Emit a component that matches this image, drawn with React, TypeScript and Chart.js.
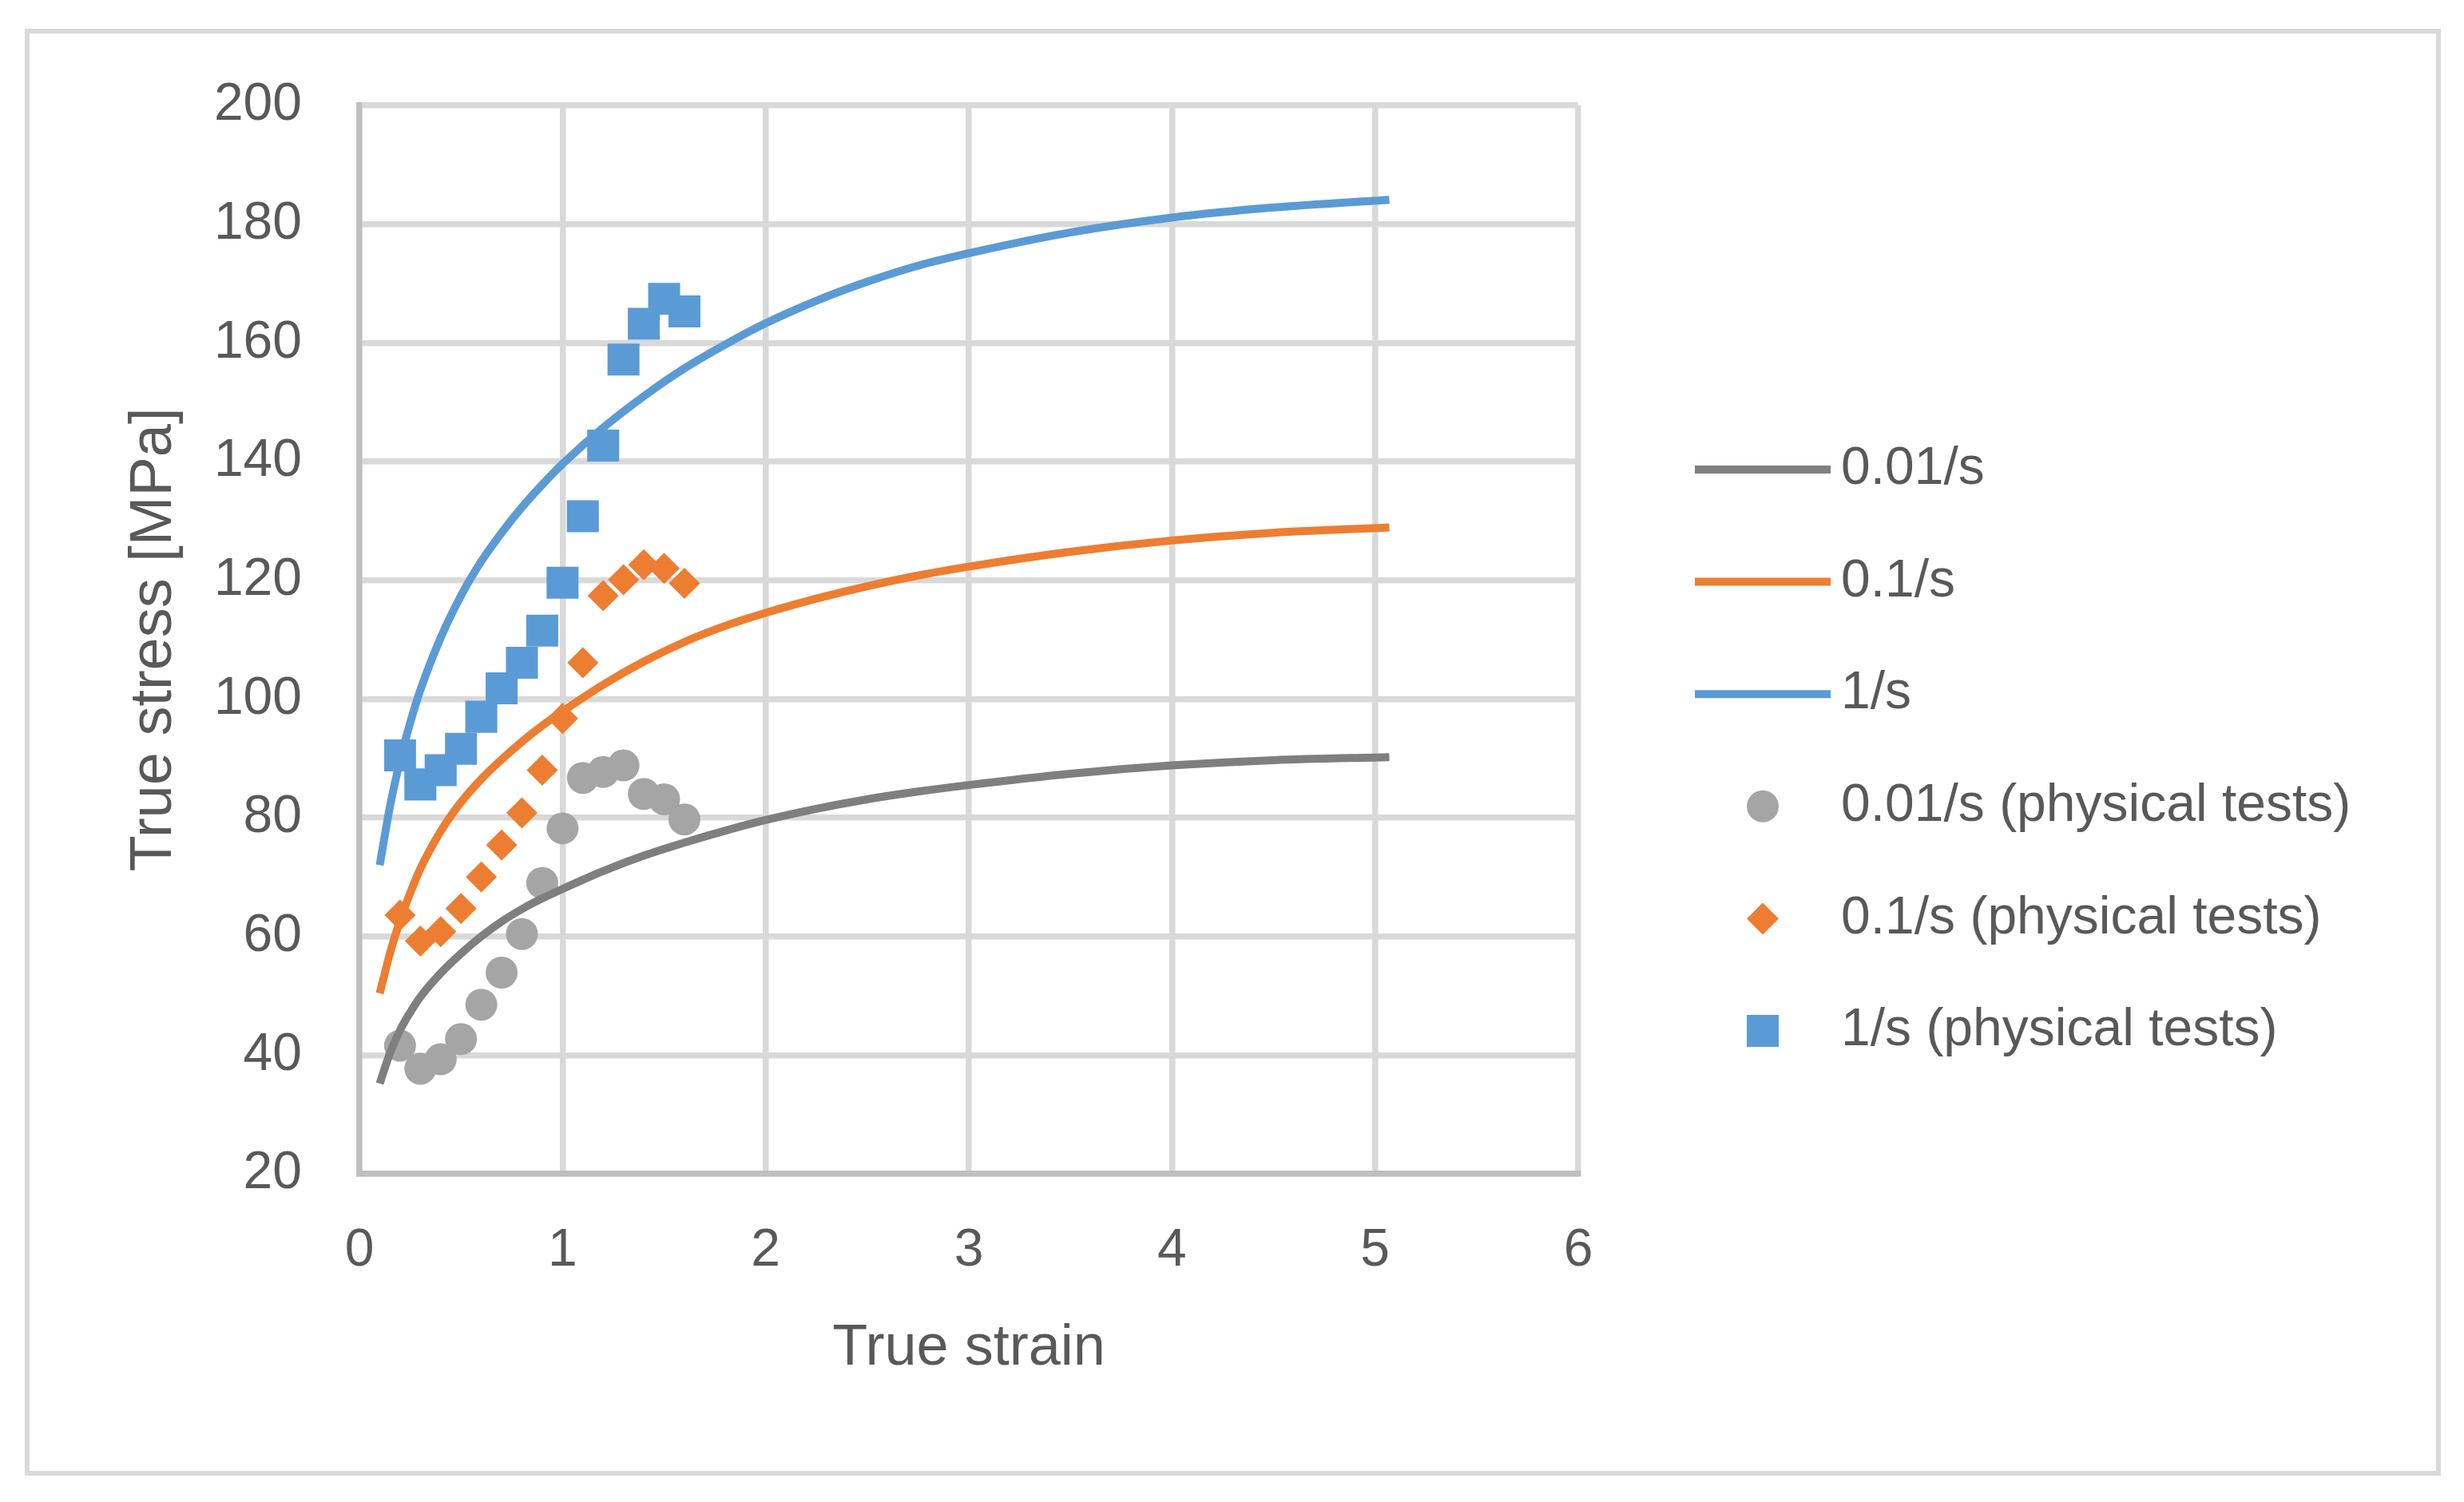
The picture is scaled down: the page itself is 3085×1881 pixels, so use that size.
import React, { useEffect, useRef } from "react";
import { Chart, registerables } from "chart.js";

Chart.register(...registerables);

// fitted model curves
const fitStrain = [0.1, 0.15, 0.2, 0.25, 0.3, 0.4, 0.5, 0.6, 0.7, 0.8, 0.9, 1.0, 1.2, 1.4, 1.6, 1.8, 2.0, 2.25, 2.5, 2.75, 3.0, 3.5, 4.0, 4.5, 5.07];
const fit001 = [35.2, 40.3, 44.2, 47.2, 49.8, 53.8, 57.1, 60, 62.5, 64.6, 66.4, 68, 71, 73.6, 75.8, 77.8, 79.6, 81.5, 83.1, 84.4, 85.5, 87.4, 88.8, 89.7, 90.2];
const fit01 = [50.4, 57.1, 62.7, 67.3, 71.4, 77.7, 82.6, 86.5, 89.8, 92.8, 95.5, 97.9, 102.4, 106.3, 109.6, 112.3, 114.5, 116.9, 119, 120.8, 122.3, 124.8, 126.7, 128, 128.9];
const fit1 = [72, 81.8, 89.6, 96, 101.5, 110.3, 117.4, 123.2, 128, 132.3, 136.1, 139.6, 145.7, 151, 155.7, 159.7, 163.3, 167.1, 170.3, 173, 175.1, 178.6, 181.1, 182.8, 184.1];

// physical tests
const testStrain = [0.2, 0.3, 0.4, 0.5, 0.6, 0.7, 0.8, 0.9, 1.0, 1.1, 1.2, 1.3, 1.4, 1.5, 1.6];
const test001 = [41.6, 37.7, 39.3, 42.7, 48.5, 53.9, 60.4, 69, 78.2, 86.7, 87.7, 88.8, 84, 83.1, 79.7];
const test01 = [63.6, 59.2, 60.8, 64.7, 70, 75.4, 80.8, 88, 96.7, 106.1, 117.4, 120.1, 122.6, 122, 119.5];
const test1 = [90.5, 85.6, 88, 91.6, 97, 101.8, 106.1, 111.5, 119.6, 130.8, 142.7, 157.2, 163.2, 167.4, 165.3];

const xTicks = [0, 1, 2, 3, 4, 5, 6];
const yTicks = [20, 40, 60, 80, 100, 120, 140, 160, 180, 200];

const GRAY_LINE = "#7F7F7F";
const GRAY_MARK = "#A5A5A5";
const ORANGE = "#ED7D31";
const BLUE = "#5B9BD5";
const TEXT = "#595959";
const GRID = "#D9D9D9";
const AXIS = "#BFBFBF";
const FONT = "Liberation Sans";

const pts = (xs: number[], ys: number[]) => xs.map((x, i) => ({ x, y: ys[i] }));

// legend drawn beside the plot: Chart.js' own legend box is clipped to half the canvas
const sideLegend = {
    id: "sideLegend",
    afterDraw(chart: any) {
        const { ctx, chartArea } = chart;
        const x0 = chartArea.right + 146;
        const sampleW = 170;
        ctx.save();
        ctx.font = `66px "${FONT}"`;
        ctx.textBaseline = "middle";
        ctx.textAlign = "left";
        chart.data.datasets.forEach((ds: any, i: number) => {
            const cy = chartArea.top + 456 + i * 140.6;
            const cx = x0 + sampleW / 2;
            const color = ds.borderColor;
            ctx.fillStyle = color;
            ctx.strokeStyle = color;
            if (ds.showLine) {
                ctx.lineWidth = ds.borderWidth;
                ctx.beginPath();
                ctx.moveTo(x0, cy);
                ctx.lineTo(x0 + sampleW, cy);
                ctx.stroke();
            } else if (ds.pointStyle === "circle") {
                ctx.beginPath();
                ctx.arc(cx, cy, 20, 0, Math.PI * 2);
                ctx.fill();
            } else if (ds.pointStyle === "rectRot") {
                ctx.beginPath();
                ctx.moveTo(cx - 20, cy);
                ctx.lineTo(cx, cy - 20);
                ctx.lineTo(cx + 20, cy);
                ctx.lineTo(cx, cy + 20);
                ctx.closePath();
                ctx.fill();
            } else {
                ctx.fillRect(cx - 20, cy - 20, 40, 40);
            }
            ctx.fillStyle = TEXT;
            ctx.fillText(ds.label, x0 + 183, cy);
        });
        ctx.restore();
    },
};

const App: React.FC = () => {
    const canvasRef = useRef<HTMLCanvasElement>(null!);

    useEffect(() => {
        const lineSet = (label: string, ys: number[], color: string) => ({
            label,
            data: pts(fitStrain, ys),
            showLine: true,
            borderColor: color,
            backgroundColor: color,
            borderWidth: 10,
            pointRadius: 0,
            pointHoverRadius: 0,
            cubicInterpolationMode: "monotone" as const,
        });
        const testSet = (label: string, ys: number[], color: string, style: string, r: number) => ({
            label,
            data: pts(testStrain, ys),
            showLine: false,
            backgroundColor: color,
            borderColor: color,
            pointStyle: style,
            pointRadius: r,
            pointHoverRadius: r,
            pointBorderWidth: 0,
        });

        const chart = new Chart(canvasRef.current, {
            type: "scatter",
            data: {
                datasets: [
                    lineSet("0.01/s", fit001, GRAY_LINE),
                    lineSet("0.1/s", fit01, ORANGE),
                    lineSet("1/s", fit1, BLUE),
                    testSet("0.01/s (physical tests)", test001, GRAY_MARK, "circle", 20),
                    testSet("0.1/s (physical tests)", test01, ORANGE, "rectRot", 19.5),
                    testSet("1/s (physical tests)", test1, BLUE, "rect", 28.3),
                ] as any,
            },
            options: {
                responsive: false,
                animation: false,
                events: [],
                layout: { padding: { left: 0, top: 132, bottom: 134, right: 1109 } },
                plugins: {
                    tooltip: { enabled: false },
                    legend: { display: false },
                },
                scales: {
                    x: {
                        type: "linear",
                        min: xTicks[0],
                        max: xTicks[xTicks.length - 1],
                        afterBuildTicks: (s: any) => {
                            s.ticks = xTicks.map((v) => ({ value: v }));
                        },
                        afterFit: (s: any) => {
                            s.height = 277;
                        },
                        grid: { color: GRID, lineWidth: 7.5, drawTicks: false },
                        border: { color: AXIS, width: 7.5 },
                        ticks: { padding: 57, maxRotation: 0, color: TEXT, font: { family: FONT, size: 66 } },
                        title: {
                            display: true,
                            text: "True strain",
                            color: TEXT,
                            font: { family: FONT, size: 72 },
                            padding: { top: 0, bottom: 15 },
                        },
                    },
                    y: {
                        type: "linear",
                        min: yTicks[0],
                        max: yTicks[yTicks.length - 1],
                        afterBuildTicks: (s: any) => {
                            s.ticks = yTicks.map((v) => ({ value: v }));
                        },
                        afterFit: (s: any) => {
                            s.width = 450;
                        },
                        grid: { color: GRID, lineWidth: 7.5, drawTicks: false },
                        border: { color: AXIS, width: 7.5 },
                        ticks: { padding: 72, color: TEXT, font: { family: FONT, size: 66 } },
                        title: {
                            display: true,
                            text: "True stress [MPa]",
                            color: TEXT,
                            font: { family: FONT, size: 74 },
                            padding: { top: 149, bottom: 0 },
                        },
                    },
                },
            } as any,
            plugins: [sideLegend],
        });

        return () => {
            chart.destroy();
        };
    }, []);

    return (
        <div style={{ position: "fixed", left: 0, top: 0, width: 3085, height: 1881, background: "#fff" }}>
            <canvas ref={canvasRef} width={3085} height={1881} style={{ position: "absolute", left: 0, top: 0 }} />
            <div
                style={{
                    position: "absolute",
                    left: 31,
                    top: 36,
                    width: 3025,
                    height: 1812,
                    boxSizing: "border-box",
                    border: "6px solid #D9D9D9",
                    pointerEvents: "none",
                }}
            />
        </div>
    );
};

export default App;
